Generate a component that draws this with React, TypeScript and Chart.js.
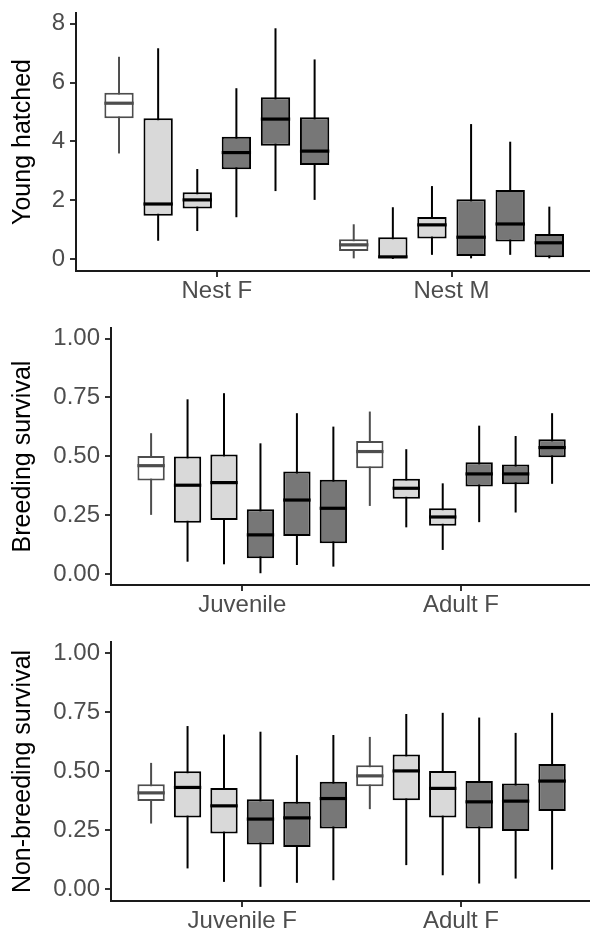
import React, { useEffect, useRef } from "react";
import { Chart, registerables } from "chart.js";

Chart.register(...registerables);

const FONT = "'Liberation Sans', Arial, sans-serif";

// Series styling (six box groups per category)
const seriesFill = ["#FFFFFF", "#D9D9D9", "#D9D9D9", "#777777", "#777777", "#777777"];
const seriesLine = ["#4D4D4D", "#000000", "#000000", "#000000", "#000000", "#000000"];

// Each box: [lower whisker, Q1, median, Q3, upper whisker]

// Panel 1 — Young hatched
const hatchedCategories = ["Nest F", "Nest M"];
const hatchedTicks = [0, 2, 4, 6, 8];
const hatchedNestF = [
  [3.59, 4.79, 5.3, 5.66, 6.88],
  [0.62, 1.47, 1.87, 4.79, 7.17],
  [0.95, 1.72, 2.01, 2.27, 3.06],
  [1.42, 3.05, 3.62, 4.16, 5.81],
  [2.31, 3.85, 4.76, 5.5, 7.85],
  [2.01, 3.2, 3.67, 4.82, 6.79],
];
const hatchedNestM = [
  [0.02, 0.27, 0.48, 0.67, 1.18],
  [0.0, 0.0, 0.07, 0.74, 1.76],
  [0.14, 0.7, 1.16, 1.43, 2.48],
  [0.02, 0.1, 0.74, 2.03, 4.59],
  [0.14, 0.59, 1.19, 2.35, 3.99],
  [0.02, 0.06, 0.55, 0.85, 1.78],
];

// Panel 2 — Breeding survival
const breedingCategories = ["Juvenile", "Adult F"];
const survivalTicks = [0, 0.25, 0.5, 0.75, 1.0];
const breedingJuvenile = [
  [0.251, 0.397, 0.46, 0.501, 0.598],
  [0.052, 0.218, 0.377, 0.499, 0.742],
  [0.041, 0.229, 0.388, 0.507, 0.768],
  [0.003, 0.067, 0.166, 0.275, 0.555],
  [0.038, 0.161, 0.314, 0.435, 0.683],
  [0.031, 0.13, 0.279, 0.4, 0.626],
];
const breedingAdultF = [
  [0.289, 0.449, 0.52, 0.565, 0.69],
  [0.198, 0.32, 0.364, 0.404, 0.53],
  [0.102, 0.205, 0.242, 0.279, 0.385],
  [0.22, 0.371, 0.425, 0.475, 0.63],
  [0.261, 0.381, 0.425, 0.465, 0.586],
  [0.383, 0.496, 0.537, 0.572, 0.683],
];

// Panel 3 — Non-breeding survival
const nonBreedingCategories = ["Juvenile F", "Adult F"];
const nonBreedingJuvenileF = [
  [0.278, 0.374, 0.408, 0.444, 0.535],
  [0.088, 0.304, 0.431, 0.5, 0.691],
  [0.031, 0.236, 0.353, 0.429, 0.655],
  [0.01, 0.189, 0.297, 0.381, 0.667],
  [0.027, 0.179, 0.302, 0.37, 0.568],
  [0.038, 0.257, 0.384, 0.455, 0.653],
];
const nonBreedingAdultF = [
  [0.339, 0.436, 0.48, 0.525, 0.645],
  [0.102, 0.377, 0.501, 0.571, 0.742],
  [0.059, 0.304, 0.427, 0.501, 0.747],
  [0.024, 0.257, 0.37, 0.458, 0.727],
  [0.045, 0.246, 0.373, 0.448, 0.662],
  [0.083, 0.331, 0.458, 0.53, 0.747],
];

function drawParts(chart: any, part: "whisker" | "median") {
  const ctx = chart.ctx;
  const yScale = chart.scales.y;
  chart.data.datasets.forEach((ds: any, i: number) => {
    const meta = chart.getDatasetMeta(i);
    meta.data.forEach((el: any, j: number) => {
      const [lo, med, hi] = ds.whisker[j];
      ctx.save();
      ctx.strokeStyle = ds.borderColor;
      ctx.lineCap = "butt";
      ctx.beginPath();
      if (part === "whisker") {
        ctx.lineWidth = 2;
        ctx.moveTo(el.x, yScale.getPixelForValue(hi));
        ctx.lineTo(el.x, yScale.getPixelForValue(lo));
      } else {
        ctx.lineWidth = 3.2;
        const half = el.width / 2;
        const py = yScale.getPixelForValue(med);
        ctx.moveTo(el.x - half, py);
        ctx.lineTo(el.x + half, py);
      }
      ctx.stroke();
      ctx.restore();
    });
  });
}

const boxPlugin = {
  id: "boxWhiskers",
  beforeDatasetsDraw(chart: any) {
    drawParts(chart, "whisker");
  },
  afterDatasetsDraw(chart: any) {
    drawParts(chart, "median");
  },
};

type PanelProps = {
  categories: string[];
  groups: number[][][];
  yTicks: number[];
  decimals: number;
  yMin: number;
  yMax: number;
  title: string;
  axisWidth: number;
  width: number;
  height: number;
  padTop: number;
  xAxisHeight: number;
  xMax: number;
};

function zeroPadding(sc: any) {
  sc.paddingTop = 0;
  sc.paddingBottom = 0;
  sc.paddingLeft = 0;
  sc.paddingRight = 0;
}

function BoxPanel(p: PanelProps) {
  const ref = useRef<HTMLCanvasElement | null>(null);
  useEffect(() => {
    if (!ref.current) return;
    const datasets = seriesFill.map((fill, s) => ({
      data: p.groups.map((g, ci) => ({ x: ci + 1, y: [g[s][1], g[s][3]] })),
      whisker: p.groups.map((g) => [g[s][0], g[s][2], g[s][4]]),
      backgroundColor: fill,
      borderColor: seriesLine[s],
      borderWidth: 2,
      borderSkipped: false,
      barPercentage: 0.75,
      categoryPercentage: 1,
    }));
    const gridOpts = {
      display: true,
      offset: false,
      drawOnChartArea: false,
      drawTicks: true,
      tickLength: 6,
      tickColor: "#333333",
      tickWidth: 2,
      lineWidth: 2,
    };
    const borderOpts = { display: true, color: "#1a1a1a", width: 2 };
    const chart = new Chart(ref.current, {
      type: "bar",
      data: { datasets: datasets as any },
      options: {
        responsive: false,
        animation: false,
        events: [],
        layout: {
          autoPadding: false,
          padding: { top: p.padTop, left: 0, right: 0, bottom: 0 },
        },
        plugins: { legend: { display: false }, tooltip: { enabled: false } },
        scales: {
          x: {
            type: "linear",
            min: 0.4,
            max: p.xMax,
            offset: false,
            afterBuildTicks: (sc: any) => {
              sc.ticks = p.categories.map((_, i) => ({ value: i + 1 }));
            },
            afterFit: (sc: any) => {
              sc.height = p.xAxisHeight;
              zeroPadding(sc);
            },
            ticks: {
              callback: (v: any) => p.categories[Math.round(Number(v)) - 1] ?? "",
              color: "#4d4d4d",
              font: { family: FONT, size: 24 },
              padding: 0,
              autoSkip: false,
              maxRotation: 0,
            },
            grid: gridOpts,
            border: borderOpts,
          },
          y: {
            type: "linear",
            min: p.yMin,
            max: p.yMax,
            afterBuildTicks: (sc: any) => {
              sc.ticks = p.yTicks.map((v) => ({ value: v }));
            },
            afterFit: (sc: any) => {
              sc.width = p.axisWidth;
              zeroPadding(sc);
            },
            ticks: {
              callback: (v: any) => Number(v).toFixed(p.decimals),
              color: "#4d4d4d",
              font: { family: FONT, size: 24 },
              padding: 5,
            },
            title: {
              display: true,
              text: p.title,
              color: "#000000",
              font: { family: FONT, size: 25 },
              padding: { top: 8, bottom: 0 },
            },
            grid: gridOpts,
            border: borderOpts,
          },
        },
      } as any,
      plugins: [boxPlugin],
    });
    return () => chart.destroy();
  }, []);
  return (
    <canvas
      ref={ref}
      width={p.width}
      height={p.height}
      style={{ display: "block", width: p.width, height: p.height }}
    />
  );
}

export default function App() {
  return (
    <div style={{ position: "absolute", left: 0, top: 0, width: 590, height: 932, background: "#fff" }}>
      <BoxPanel
        categories={hatchedCategories}
        groups={[hatchedNestF, hatchedNestM]}
        yTicks={hatchedTicks}
        decimals={0}
        yMin={-0.41}
        yMax={8.37}
        title="Young hatched"
        axisWidth={76}
        width={590}
        height={314}
        padTop={13}
        xAxisHeight={43}
        xMax={2.59}
      />
      <BoxPanel
        categories={breedingCategories}
        groups={[breedingJuvenile, breedingAdultF]}
        yTicks={survivalTicks}
        decimals={2}
        yMin={-0.047}
        yMax={1.045}
        title="Breeding survival"
        axisWidth={111}
        width={590}
        height={314}
        padTop={14}
        xAxisHeight={43}
        xMax={2.59}
      />
      <BoxPanel
        categories={nonBreedingCategories}
        groups={[nonBreedingJuvenileF, nonBreedingAdultF]}
        yTicks={survivalTicks}
        decimals={2}
        yMin={-0.05}
        yMax={1.047}
        title="Non-breeding survival"
        axisWidth={111}
        width={590}
        height={304}
        padTop={14}
        xAxisHeight={31}
        xMax={2.59}
      />
    </div>
  );
}
